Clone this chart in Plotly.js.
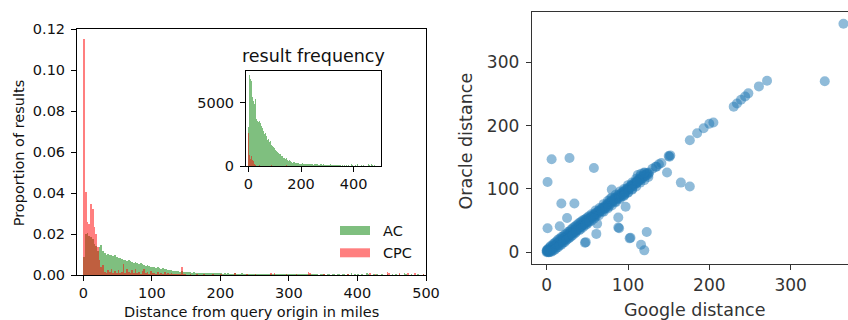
<!DOCTYPE html>
<html><head><meta charset="utf-8">
<script src="https://cdn.plot.ly/plotly-3.0.1.min.js"></script>
<style>html,body{margin:0;padding:0;background:#fff}#chart{width:848px;height:320px}</style>
</head><body><div id="chart"></div>
<script>
// ---------------- DATA ----------------
const binStart = 0;
const binWidth = 2.5;
// proportion (density) of results per 2.5-mile bin, 0..500 miles
const acProportion = [
  0.0085,0.0198,0.0202,0.0190,0.0185,0.0172,0.0150,0.0142,0.0118,0.0136,
  0.0146,0.0118,0.0104,0.0098,0.0100,0.0096,0.0098,0.0093,0.0095,0.0088,
  0.0080,0.0083,0.0076,0.0072,0.0070,0.0068,0.0072,0.0066,0.0060,0.0058,
  0.0060,0.0055,0.0052,0.0055,0.0050,0.0046,0.0044,0.0045,0.0042,0.0040,
  0.0037,0.0036,0.0034,0.0036,0.0031,0.0030,0.0032,0.0026,0.0027,0.0024,
  0.0022,0.0023,0.0020,0.0018,0.0017,0.0016,0.0015,0.0017,0.0014,0.0013,
  0.0012,0.0011,0.0013,0.0010,0.0011,0.0009,0.0010,0.0008,0.0009,0.0008,
  0.0009,0.0007,0.0008,0.0007,0.0008,0.0006,0.0007,0.0006,0.0007,0.0006,
  0.0006,0.0005,0.0007,0.0004,0.0006,0.0005,0.0005,0.0003,0.0006,0.0004,
  0.0005,0.0004,0.0006,0.0003,0.0005,0.0004,0.0004,0.0005,0.0003,0.0004,
  0.0004,0.0003,0.0005,0.0004,0.0003,0.0004,0.0002,0.0004,0.0003,0.0005,
  0.0003,0.0004,0.0002,0.0003,0.0004,0.0002,0.0003,0.0003,0.0002,0.0004,
  0.0003,0.0002,0.0003,0.0002,0.0004,0.0002,0.0002,0.0003,0.0002,0.0003,
  0.0002,0.0003,0.0002,0.0002,0.0003,0.0002,0.0002,0.0001,0.0003,0.0002,
  0.0002,0.0001,0.0002,0.0003,0.0001,0.0002,0.0002,0.0001,0.0002,0.0002,
  0.0001,0.0002,0.0003,0.0001,0.0002,0.0001,0.0006,0.0001,0.0002,0.0001,
  0.0002,0.0001,0.0002,0.0001,0.0001,0.0006,0.0002,0.0001,0.0001,0.0002,
  0.0001,0.0002,0.0001,0.0001,0.0002,0.0001,0.0001,0.0002,0.0001,0.0001,
  0.0002,0.0001,0.0005,0.0001,0.0002,0.0001,0.0001,0.0006,0.0002,0.0001,
  0.0001,0.0002,0.0001,0.0001,0.0001,0.0002,0.0001,0.0001,0.0005,0.0001
];
const cpcProportion = [
  0.1150,0.0406,0.0255,0.0248,0.0347,0.0320,0.0235,0.0200,0.0135,0.0070,
  0.0040,0.0048,0.0015,0.0008,0.0022,0.0012,0.0030,0.0010,0.0018,0.0006,
  0.0024,0.0010,0.0012,0.0050,0.0008,0.0030,0.0014,0.0006,0.0022,0.0010,
  0.0028,0.0008,0.0012,0.0005,0.0018,0.0030,0.0008,0.0012,0.0004,0.0020,
  0.0006,0.0010,0.0003,0.0015,0.0005,0.0008,0.0002,0.0012,0.0004,0.0006,
  0.0003,0.0008,0.0002,0.0005,0.0003,0.0004,0.0002,0.0036,0.0004,0.0002,
  0,0,0.0003,0,0,0,0.0002,0,0,0,
  0.0004,0,0,0,0,0.0002,0,0,0,0,
  0.0003,0,0,0,0,0,0,0,0.0006,0,
  0,0,0,0,0,0.0003,0,0,0,0,
  0.0004,0,0,0,0,0,0,0,0,0.0010,
  0,0.0006,0,0,0,0,0,0,0.0003,0,
  0,0,0,0,0.0002,0,0,0,0,0,
  0,0.0014,0.0010,0,0,0,0,0,0,0,
  0.0003,0,0,0,0,0,0,0,0,0,
  0,0,0,0,0.0005,0,0,0,0,0,
  0,0,0,0,0,0,0,0.0010,0,0,
  0.0004,0,0,0,0,0,0,0.0012,0.0006,0,
  0,0,0,0,0.0010,0,0,0,0,0.0008,
  0,0,0,0.0006,0,0,0,0,0.0005,0
];
const acResults = 145200;   // number of AC results (for the count inset)
const cpcResults = 9040;    // number of CPC results
const mainXTicks = [0, 100, 200, 300, 400, 500];
const mainYTicks = [0, 0.02, 0.04, 0.06, 0.08, 0.10, 0.12];
const insetXTicks = [0, 200, 400];
const insetYTicks = [0, 5000];

const googleDist = [
  // along the diagonal
  0,1,2,3,4,5,6,7,8,9,
  10,11,12,13,14,15,16,17,18,19,
  20,21,22,23,24,25,26,27,28,29,
  30,31,32,33,34,35,36,37,38,39,
  40,41,42,43,44,45,46,47,48,49,
  50,52,54,56,58,60,62,64,66,68,
  70,72,74,76,78,80,82,84,86,88,
  90,92,94,96,98,100,102,104,106,108,
  110,112,114,116,118,120,122,124,126,130,
  134,138,141,135,150,152,151,
  1,3,5,7,9,11,13,15,17,19,
  21,23,25,27,29,31,33,35,37,39,
  41,43,45,47,49,51,53,55,57,59,
  61,63,65,67,69,71,73,75,77,79,
  81,83,85,87,89,91,93,95,97,99,
  101,103,105,107,109,111,113,115,117,119,
  121,123,125,
  // upper edge of the band
  2,5,8,10,14,18,22,26,30,34,
  38,42,46,50,55,60,65,70,75,80,
  85,90,95,100,105,110,115,120,
  4,8,12,16,20,24,28,32,36,40,
  44,48,52,
  // lower edge of the band
  6,10,14,18,22,26,30,35,40,45,
  50,55,60,64,70,75,80,85,90,95,
  100,105,110,115,120,125,
  8,12,16,20,24,28,32,36,42,48,
  52,58,68,72,76,84,88,92,96,
  0,3,1,4,0,
  112,116,100,95,78,105,120,
  // points away from the diagonal
  365,342,271,261,248,244,239,234,230,
  205,200,193,185,176,
  176,165,148,6,28,58,1,18,34,
  80,97,88,89,88,102,103,123,116,120,
  47,48,61,1,25,16,62,111
];
const oracleDist = [
  0,1,0,2,3,5,4,8,6,10,
  9,12,10,14,12,16,15,19,16,20,
  18,23,20,24,23,27,24,28,27,31,
  28,32,31,35,32,36,35,39,36,40,
  39,43,40,44,43,47,44,48,47,51,
  48,53,53,58,57,62,60,66,65,70,
  68,74,73,78,76,82,81,86,84,90,
  89,94,92,98,97,102,101,106,104,110,
  109,114,113,118,117,122,121,125,126,132,
  135,139,141,135,152,153,151,
  2,4,6,7,9,11,13,15,17,19,
  21,22,25,26,29,30,33,34,37,38,
  41,42,45,46,49,50,54,56,56,60,
  61,64,64,68,69,72,72,76,77,80,
  80,84,85,88,88,92,93,96,96,100,
  100,104,105,108,108,112,113,116,116,120,
  121,124,123,
  6,10,13,15,20,24,28,32,36,40,
  44,48,51,55,60,66,70,76,81,86,
  91,96,100,106,110,116,120,125,
  8,11,17,21,25,29,33,38,42,46,
  50,53,57,
  1,4,8,12,16,21,25,30,35,40,
  45,50,56,58,64,69,74,79,84,89,
  94,99,104,110,114,119,
  3,7,11,15,19,23,27,32,37,43,
  48,53,64,69,72,80,85,88,92,
  3,0,4,1,2,
  122,124,95,90,84,100,126,
  361,270,271,262,251,246,241,235,230,
  205,203,196,188,177,
  104,110,126,147,149,133,111,77,77,
  99,72,55,38,39,22,23,32,12,3,
  15,16,29,38,54,41,45,110
];
const scatterTicks = [0, 100, 200, 300];

// ---------------- LAYOUT HELPERS ----------------
const W = 848, H = 320;
const px = v => v / W;
const py = v => 1 - v / H;
const FONT = 'DejaVu Sans';

const binCenters = acProportion.map((_, i) => binStart + (i + 0.5) * binWidth);
const acCounts = acProportion.map(v => v * acResults * binWidth);
const cpcCounts = cpcProportion.map(v => v * cpcResults * binWidth);

const acColor = 'rgba(0,128,0,0.5)';
const cpcColor = 'rgba(255,0,0,0.5)';

function bar(x, y, color, name, xa, ya) {
  return {type: 'bar', x: x, y: y, width: binWidth, name: name,
    marker: {color: color, line: {width: 0}}, xaxis: xa, yaxis: ya,
    showlegend: false, hoverinfo: 'skip'};
}

const traces = [
  bar(binCenters, acProportion, acColor, 'AC', 'x', 'y'),
  bar(binCenters, cpcProportion, cpcColor, 'CPC', 'x', 'y'),
  bar(binCenters, acCounts, acColor, 'AC', 'x2', 'y2'),
  bar(binCenters, cpcCounts, cpcColor, 'CPC', 'x2', 'y2'),
  {type: 'scatter', mode: 'markers', x: googleDist, y: oracleDist,
   xaxis: 'x3', yaxis: 'y3', showlegend: false, hoverinfo: 'skip',
   marker: {size: 10, color: '#1f77b4', opacity: 0.5, line: {width: 0}}}
];

function ax(extra, fontSize, col, lineCol) {
  return Object.assign({
    showgrid: false, zeroline: false, showline: true, linecolor: lineCol, linewidth: 1,
    ticks: 'outside', ticklen: 5, tickwidth: 1, tickcolor: lineCol,
    tickfont: {family: FONT, size: fontSize, color: col}, fixedrange: true
  }, extra);
}

const LS = 14.5;  // left panel font size
const RS = 17;    // right panel tick font size

const layout = {
  width: W, height: H,
  margin: {l: 0, r: 0, t: 0, b: 0},
  paper_bgcolor: '#fff', plot_bgcolor: '#fff',
  barmode: 'overlay', bargap: 0, bargroupgap: 0,
  showlegend: false,
  font: {family: FONT, color: '#111'},
  xaxis: ax({domain: [px(77), px(426)], range: [-9.2, 500], anchor: 'y',
    tickvals: mainXTicks, mirror: true}, LS, '#111', '#000'),
  yaxis: ax({domain: [py(275), py(29.3)], range: [0, 0.12], anchor: 'x',
    tickvals: mainYTicks, tickformat: '.2f', mirror: true, ticklabelstandoff: 3}, LS, '#111', '#000'),
  xaxis2: ax({domain: [px(246), px(381)], range: [-9, 504], anchor: 'y2',
    tickvals: insetXTicks, mirror: true}, LS, '#111', '#000'),
  yaxis2: ax({domain: [py(166), py(70.7)], range: [0, 7530], anchor: 'x2',
    tickvals: insetYTicks, mirror: true, ticklabelstandoff: 3}, LS, '#111', '#000'),
  xaxis3: ax({domain: [px(531.7), 1], range: [-18.5, 370.6], anchor: 'y3',
    tickvals: scatterTicks, mirror: true}, RS, '#333', '#333'),
  yaxis3: ax({domain: [py(264.3), py(12.3)], range: [-19, 379], anchor: 'x3',
    tickvals: scatterTicks, mirror: false, ticklabelstandoff: 3}, RS, '#333', '#333'),
  shapes: [
    {type: 'rect', xref: 'paper', yref: 'paper', x0: px(340), x1: px(370), y0: py(235), y1: py(226),
     fillcolor: acColor, line: {width: 0}},
    {type: 'rect', xref: 'paper', yref: 'paper', x0: px(340), x1: px(370), y0: py(257.3), y1: py(248.3),
     fillcolor: cpcColor, line: {width: 0}}
  ],
  annotations: [
    {text: 'AC', x: px(381), y: py(230.7), xref: 'paper', yref: 'paper', xanchor: 'left', yanchor: 'middle',
     showarrow: false, font: {family: FONT, size: LS, color: '#111'}},
    {text: 'CPC', x: px(381), y: py(253), xref: 'paper', yref: 'paper', xanchor: 'left', yanchor: 'middle',
     showarrow: false, font: {family: FONT, size: LS, color: '#111'}},
    {text: 'result frequency', x: px(313), y: py(56), xref: 'paper', yref: 'paper', xanchor: 'center', yanchor: 'middle',
     showarrow: false, font: {family: FONT, size: 17.5, color: '#111'}},
    {text: 'Proportion of results', x: px(18.8), y: py(152.5), xref: 'paper', yref: 'paper', xanchor: 'center', yanchor: 'middle',
     textangle: -90, showarrow: false, font: {family: FONT, size: LS, color: '#111'}},
    {text: 'Distance from query origin in miles', x: px(251.7), y: py(311.5), xref: 'paper', yref: 'paper', xanchor: 'center', yanchor: 'middle',
     showarrow: false, font: {family: FONT, size: LS, color: '#111'}},
    {text: 'Oracle distance', x: px(465.5), y: py(141), xref: 'paper', yref: 'paper', xanchor: 'center', yanchor: 'middle',
     textangle: -90, showarrow: false, font: {family: FONT, size: 17.5, color: '#333'}},
    {text: 'Google distance', x: px(694.5), y: py(310), xref: 'paper', yref: 'paper', xanchor: 'center', yanchor: 'middle',
     showarrow: false, font: {family: FONT, size: 17.5, color: '#333'}}
  ]
};

Plotly.newPlot('chart', traces, layout, {displayModeBar: false, responsive: false});
</script>
</body></html>
